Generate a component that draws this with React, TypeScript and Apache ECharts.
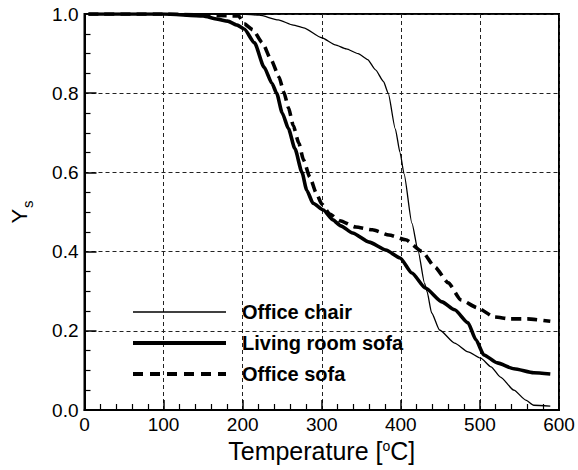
import React, { useEffect, useRef } from "react";
import * as echarts from "echarts";

const officeChairT = [5, 100, 200, 221, 245, 264, 277, 300, 317, 331, 346, 358, 368, 378, 384, 393, 399, 404, 414, 422, 430, 433, 439, 449, 468, 485, 501, 514, 526, 543, 558, 568, 589];
const officeChairY = [1.0, 1.0, 1.0, 0.997, 0.985, 0.972, 0.965, 0.94, 0.922, 0.912, 0.9, 0.885, 0.859, 0.83, 0.8, 0.71, 0.65, 0.597, 0.472, 0.4, 0.32, 0.3, 0.245, 0.202, 0.169, 0.147, 0.131, 0.109, 0.083, 0.05, 0.025, 0.012, 0.01];

const livingSofaT = [5, 100, 150, 168, 181, 193, 202, 215, 227, 237, 243, 250, 258, 266, 275, 281, 289, 302, 314, 324, 339, 360, 381, 399, 414, 431, 452, 468, 485, 495, 505, 522, 543, 568, 589];
const livingSofaY = [1.0, 1.0, 0.995, 0.987, 0.982, 0.972, 0.962, 0.927, 0.866, 0.825, 0.8, 0.75, 0.71, 0.66, 0.6, 0.555, 0.522, 0.505, 0.48, 0.465, 0.447, 0.424, 0.404, 0.384, 0.346, 0.308, 0.273, 0.253, 0.22, 0.177, 0.139, 0.119, 0.104, 0.094, 0.091];

const officeSofaT = [5, 100, 195, 202, 213, 225, 236, 246, 252, 258, 264, 271, 277, 285, 293, 300, 310, 323, 343, 364, 385, 406, 427, 443, 460, 476, 497, 518, 539, 560, 589];
const officeSofaY = [1.0, 1.0, 0.995, 0.975, 0.96, 0.927, 0.884, 0.841, 0.803, 0.763, 0.718, 0.674, 0.631, 0.588, 0.548, 0.52, 0.495, 0.478, 0.462, 0.455, 0.442, 0.43, 0.4, 0.361, 0.321, 0.278, 0.258, 0.235, 0.23, 0.23, 0.224];

const seriesNames = ["Office chair", "Living room sofa", "Office sofa"];

const FONT = "'Liberation Sans', Arial, sans-serif";

const lineStyles = [
  { color: "#000", width: 1.3 },
  { color: "#000", width: 3.6 },
  { color: "#000", width: 3.6, type: [10, 6] as number[] },
];

function pairs(t: number[], y: number[]) {
  return t.map((v, i) => [v, y[i]]);
}

export default function App() {
  const ref = useRef<HTMLDivElement>(null);
  useEffect(() => {
    if (!ref.current) return;
    const chart = echarts.init(ref.current, undefined, { renderer: "svg" });
    const legendRowsY = [312, 343, 374];
    const legendGraphics: any[] = [];
    seriesNames.forEach((name, i) => {
      legendGraphics.push({
        type: "line",
        shape: { x1: 133, y1: legendRowsY[i], x2: 226, y2: legendRowsY[i] },
        style: {
          stroke: "#000",
          lineWidth: i === 0 ? 1.3 : 4,
          lineDash: i === 2 ? [10, 7] : null,
        },
        z: 10,
      });
      legendGraphics.push({
        type: "text",
        x: 242,
        y: legendRowsY[i],
        style: {
          text: name,
          fontFamily: FONT,
          fontSize: 20,
          fontWeight: "bold",
          fill: "#000",
          textVerticalAlign: "middle",
          verticalAlign: "middle",
        },
        z: 10,
      });
    });
    chart.setOption({
      animation: false,
      backgroundColor: "#fff",
      textStyle: { fontFamily: FONT },
      grid: {
        left: 78,
        right: 19,
        top: 14,
        bottom: 60,
        show: true,
        borderColor: "#000",
        borderWidth: 2,
      },
      graphic: legendGraphics,
      xAxis: {
        type: "value",
        min: 0,
        max: 600,
        interval: 100,
        name: "Temperature [{sup|o}C]",
        nameLocation: "middle",
        nameGap: 15,
        nameTextStyle: {
          fontFamily: FONT,
          fontSize: 25,
          color: "#000",
          rich: {
            sup: { fontSize: 14, verticalAlign: "top", padding: [0, 0, 10, 0], fontFamily: FONT, color: "#000" },
          },
        },
        axisLine: { show: true, lineStyle: { color: "#000", width: 2 } },
        axisTick: { show: true, inside: true, length: 10, lineStyle: { color: "#000", width: 1.5 } },
        minorTick: { show: true, splitNumber: 5, length: 6, lineStyle: { color: "#000", width: 1.2 } },
        axisLabel: { fontFamily: FONT, fontSize: 19, color: "#000", margin: 5 },
        splitLine: { show: true, lineStyle: { color: "#222", width: 1, type: [4, 3] } },
      },
      yAxis: {
        type: "value",
        min: 0,
        max: 1,
        interval: 0.2,
        name: "{y|Y}{s|s}",
        nameLocation: "middle",
        nameRotate: 90,
        nameGap: 50,
        nameTextStyle: {
          fontFamily: FONT,
          color: "#000",
          rich: {
            y: { fontSize: 22, fontFamily: FONT, color: "#000" },
            s: { fontSize: 15, fontFamily: FONT, color: "#000", verticalAlign: "bottom", padding: [16, 0, 0, 1] },
          },
        },
        axisLine: { show: true, lineStyle: { color: "#000", width: 2 } },
        axisTick: { show: true, inside: true, length: 12, lineStyle: { color: "#000", width: 1.5 } },
        minorTick: { show: true, splitNumber: 4, length: 6, lineStyle: { color: "#000", width: 1.2 } },
        axisLabel: {
          fontFamily: FONT,
          fontSize: 19,
          color: "#000",
          margin: 6,
          formatter: (v: number) => v.toFixed(1),
        },
        splitLine: { show: true, lineStyle: { color: "#222", width: 1, type: [4, 3] } },
      },
      series: seriesNames.map((name, i) => ({
        name,
        type: "line",
        data: [
          pairs(officeChairT, officeChairY),
          pairs(livingSofaT, livingSofaY),
          pairs(officeSofaT, officeSofaY),
        ][i],
        showSymbol: false,
        symbol: "none",
        smooth: 0.2,
        smoothMonotone: "x",
        lineStyle: lineStyles[i],
        itemStyle: { color: "#000" },
      })),
    });
    return () => chart.dispose();
  }, []);
  return <div ref={ref} style={{ width: 578, height: 470, position: "absolute", left: 0, top: 0 }} />;
}
